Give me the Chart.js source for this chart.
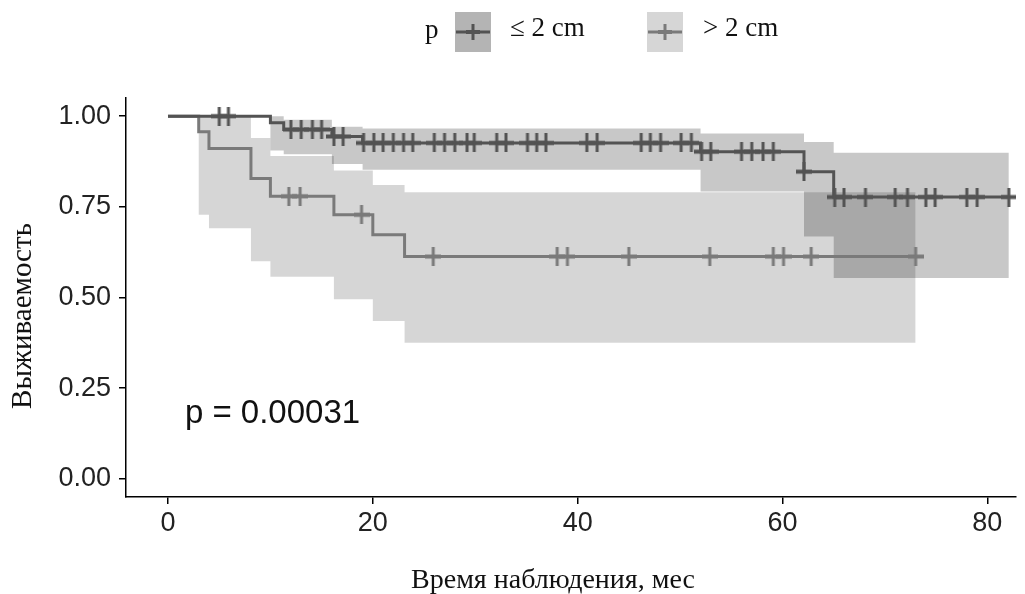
<!DOCTYPE html>
<html>
<head>
<meta charset="utf-8">
<script src="https://cdn.jsdelivr.net/npm/chart.js@4.4.0/dist/chart.umd.min.js"></script>
<style>
  html, body { margin: 0; padding: 0; background: #ffffff; }
  #wrap { width: 1025px; height: 594px; position: relative; }
</style>
</head>
<body>
<div id="wrap"><canvas id="km" width="1025" height="594"></canvas></div>
<script>
// Kaplan–Meier survival by tumour size, with 95% confidence bands and censoring marks.

const groupLabels = ['\u2264 2 cm', '> 2 cm'];
const legendTitle = 'p';
const xTitle = 'Время наблюдения, мес';
const yTitle = 'Выживаемость';
const pValueText = 'p = 0.00031';

const xTicks = [0, 20, 40, 60, 80];
const yTicks = [0, 0.25, 0.5, 0.75, 1];

// Group "≤ 2 cm": event times, survival after each time, confidence limits
const timesSmall = [0, 10, 11.3, 16, 19, 52, 62.1, 65];
const survSmall  = [1, 0.982, 0.963, 0.944, 0.926, 0.902, 0.847, 0.777];
const upperSmall = [1, 1, 0.99, 0.971, 0.966, 0.952, 0.929, 0.899];
const lowerSmall = [1, 0.905, 0.895, 0.868, 0.852, 0.792, 0.668, 0.554];
const endSmall = 82.1;
const censorSmall = [5, 5.9, 12, 13, 14.1, 15, 16.2, 17.1, 19.1, 20.1, 21, 22, 23, 23.9,
  26, 27, 28, 29.2, 29.9, 32.1, 33, 35.1, 36, 36.9, 40.9, 41.9, 46.2, 47.1, 48.1,
  50.1, 51.1, 52.1, 53, 56, 57, 58.1, 59.1, 62.1, 65.1, 66, 68.1, 71, 72.2, 74,
  74.9, 78, 79, 82.1];

// Group "> 2 cm"
const timesLarge = [0, 3, 4, 8.1, 10, 16.2, 20, 23.1];
const survLarge  = [1, 0.957, 0.911, 0.828, 0.779, 0.728, 0.673, 0.613];
const upperLarge = [1, 1, 1, 0.94, 0.89, 0.85, 0.81, 0.79];
const lowerLarge = [1, 0.728, 0.691, 0.60, 0.557, 0.495, 0.435, 0.375];
const endLarge = 73;
const censorLarge = [11.8, 12.9, 18.9, 25.9, 38, 39, 45, 52.9, 59.1, 60.1, 62.8, 73];

// Position of the log-rank annotation, in data units
const pValuePos = { x: 1.65, y: 0.154 };

const lineSmall = '#535353';
const lineLarge = '#7a7a7a';
const bandSmall = 'rgba(0,0,0,0.215)';
const bandLarge = 'rgba(0,0,0,0.16)';
const keySmall = '#b4b4b4';
const keyLarge = '#d6d6d6';

const SANS = '"Liberation Sans", Arial, sans-serif';
const SERIF = '"Liberation Serif", "Times New Roman", serif';

function stepPoints(times, values, end) {
  const pts = times.map((t, i) => ({ x: t, y: values[i] }));
  pts.push({ x: end, y: values[values.length - 1] });
  return pts;
}
function survivalAt(times, values, t) {
  let v = values[0];
  for (let i = 0; i < times.length; i++) if (times[i] <= t) v = values[i];
  return v;
}
function censorPoints(censor, times, values) {
  return censor.map(t => ({ x: t, y: survivalAt(times, values, t) }));
}

// "+" censoring glyph: a tall thin upright over a short thick bar
function censorGlyph(color) {
  const c = document.createElement('canvas');
  c.width = 16; c.height = 19;
  const g = c.getContext('2d');
  g.fillStyle = color;
  g.fillRect(0, 7.5, 16, 4);
  g.fillRect(6.5, 0, 3, 19);
  return c;
}

const hidden = 'rgba(0,0,0,0)';
const bandBase = { pointRadius: 0, borderWidth: 0, borderColor: hidden, stepped: 'before', tension: 0 };

const datasets = [
  Object.assign({}, bandBase, { label: 'upperSmall', data: stepPoints(timesSmall, upperSmall, endSmall),
    fill: 1, backgroundColor: bandSmall, order: 5 }),
  Object.assign({}, bandBase, { label: 'lowerSmall', data: stepPoints(timesSmall, lowerSmall, endSmall),
    fill: false, order: 5 }),
  Object.assign({}, bandBase, { label: 'upperLarge', data: stepPoints(timesLarge, upperLarge, endLarge),
    fill: 3, backgroundColor: bandLarge, order: 6 }),
  Object.assign({}, bandBase, { label: 'lowerLarge', data: stepPoints(timesLarge, lowerLarge, endLarge),
    fill: false, order: 6 }),
  { label: groupLabels[1], data: stepPoints(timesLarge, survLarge, endLarge), stepped: 'before',
    borderColor: lineLarge, borderWidth: 3, pointRadius: 0, fill: false, order: 3 },
  { label: groupLabels[0], data: stepPoints(timesSmall, survSmall, endSmall), stepped: 'before',
    borderColor: lineSmall, borderWidth: 3, pointRadius: 0, fill: false, order: 2 },
  { label: 'censorLarge', data: censorPoints(censorLarge, timesLarge, survLarge), showLine: false,
    pointStyle: censorGlyph(lineLarge), pointRadius: 8, order: 1 },
  { label: 'censorSmall', data: censorPoints(censorSmall, timesSmall, survSmall), showLine: false,
    pointStyle: censorGlyph(lineSmall), pointRadius: 8, order: 0 }
];

// Legend row, axis titles and the p-value annotation
const annotations = {
  id: 'annotations',
  afterDraw(chart) {
    const ctx = chart.ctx;
    ctx.save();
    ctx.fillStyle = '#111';
    ctx.textBaseline = 'alphabetic';
    ctx.font = '27px ' + SERIF;
    ctx.textAlign = 'left';
    ctx.fillText(legendTitle, 425, 38);

    const keys = [
      { x: 455, label: groupLabels[0], fill: keySmall, line: lineSmall, tx: 510 },
      { x: 647, label: groupLabels[1], fill: keyLarge, line: lineLarge, tx: 703 }
    ];
    keys.forEach(k => {
      const w = 36, h = 40, y = 12;
      ctx.fillStyle = k.fill;
      ctx.fillRect(k.x, y, w, h);
      ctx.strokeStyle = k.line;
      ctx.lineWidth = 3;
      const cx = k.x + w / 2, cy = y + 20;
      ctx.beginPath();
      ctx.moveTo(k.x + 1, cy); ctx.lineTo(k.x + w - 1, cy);
      ctx.moveTo(cx, cy - 8); ctx.lineTo(cx, cy + 8);
      ctx.stroke();
      ctx.lineWidth = 4;
      ctx.beginPath();
      ctx.moveTo(cx - 7, cy); ctx.lineTo(cx + 7, cy);
      ctx.stroke();
      ctx.fillStyle = '#111';
      ctx.font = '27px ' + SERIF;
      ctx.fillText(k.label, k.tx, 36);
    });

    // axis titles
    ctx.fillStyle = '#111';
    ctx.font = '28px ' + SERIF;
    ctx.textAlign = 'center';
    ctx.fillText(xTitle, 553, 588);
    ctx.save();
    ctx.translate(31, 316);
    ctx.rotate(-Math.PI / 2);
    ctx.font = '29px ' + SERIF;
    ctx.fillText(yTitle, 0, 0);
    ctx.restore();

    const xs = chart.scales.x, ys = chart.scales.y;
    ctx.font = '33px ' + SANS;
    ctx.textAlign = 'left';
    ctx.fillStyle = '#111';
    ctx.fillText(pValueText, xs.getPixelForValue(pValuePos.x), ys.getPixelForValue(pValuePos.y));
    ctx.restore();
  }
};

new Chart(document.getElementById('km'), {
  type: 'line',
  data: { datasets },
  plugins: [annotations],
  options: {
    responsive: false,
    animation: false,
    events: [],
    layout: { padding: { top: 98, right: 5, left: 0, bottom: 0 } },
    plugins: {
      legend: { display: false },
      tooltip: { enabled: false },
      filler: { propagate: false }
    },
    scales: {
      x: {
        type: 'linear',
        min: -4.1,
        max: 82.8,
        afterBuildTicks: s => { s.ticks = xTicks.map(v => ({ value: v })); },
        afterFit: s => { s.height = 97; },
        ticks: {
          color: '#222',
          font: { family: SANS, size: 27 },
          padding: 3,
          maxRotation: 0,
          callback: v => String(v)
        },
        grid: { drawOnChartArea: false, drawTicks: true, tickLength: 7, color: '#000', lineWidth: 1.5 },
        border: { display: true, color: '#000', width: 1.5 }
      },
      y: {
        type: 'linear',
        min: -0.05,
        max: 1.05,
        afterBuildTicks: s => { s.ticks = yTicks.map(v => ({ value: v })); },
        afterFit: s => { s.width = 126; },
        ticks: {
          color: '#222',
          font: { family: SANS, size: 27 },
          padding: 8,
          callback: v => Number(v).toFixed(2)
        },
        grid: { drawOnChartArea: false, drawTicks: true, tickLength: 7, color: '#000', lineWidth: 1.5 },
        border: { display: true, color: '#000', width: 1.5 }
      }
    }
  }
});
</script>
</body>
</html>
